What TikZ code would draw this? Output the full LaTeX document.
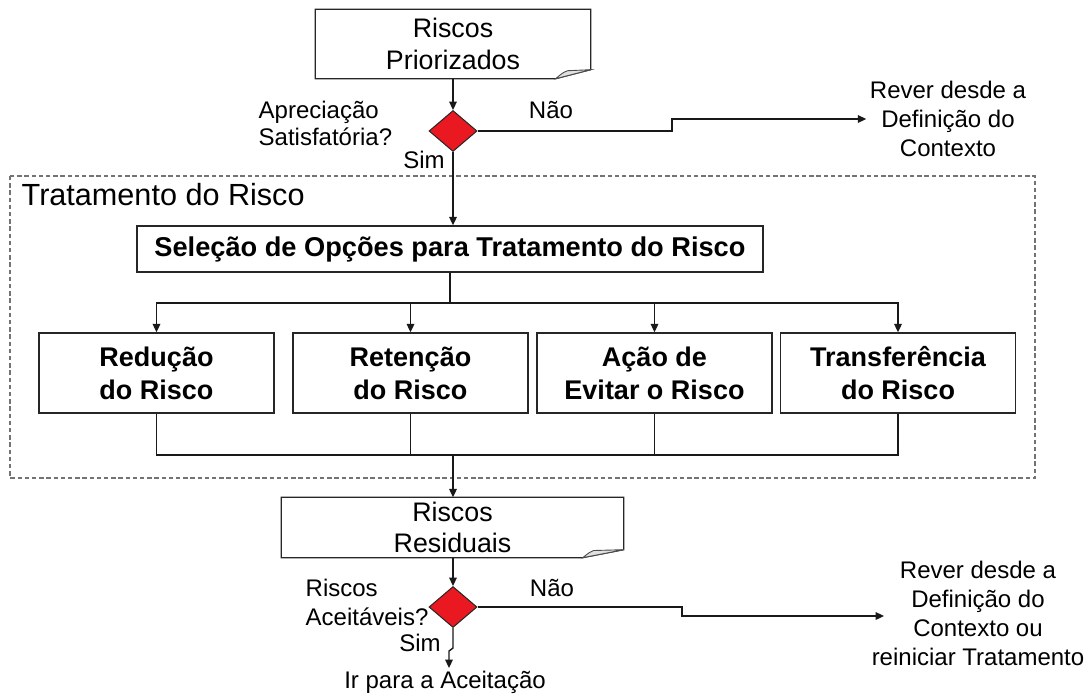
\documentclass[tikz,border=0pt]{standalone}
\usepackage{fontspec}
\setmainfont{Liberation Sans}
\usetikzlibrary{arrows.meta,shapes.geometric,calc}
\definecolor{dred}{RGB}{234,24,32}
\begin{document}
\begin{tikzpicture}[x=0.5pt,y=-0.5pt,
  line width=0.7pt,
  conn/.style={draw=black!90},
  arr/.style={conn,-{Triangle[length=4.2pt,width=3.8pt]}},
  docnode/.style={rectangle,align=center,inner sep=0pt,font=\fontsize{13.4}{16}\selectfont},
  docline/.style={draw=black!85,line width=0.6pt},
  flap/.style={draw=black!70,fill=black!12,line width=0.45pt},
  optbox/.style={draw=black!85,rectangle,minimum width=117.5pt,minimum height=40pt,align=center,
    font=\fontsize{13.5}{16.5}\selectfont\bfseries,inner sep=0pt},
  selbox/.style={draw=black!85,rectangle,minimum width=313pt,minimum height=23pt,
    font=\fontsize{13.6}{16}\selectfont\bfseries,inner sep=0pt},
  decision/.style={diamond,draw=black!85,fill=dred,minimum width=24pt,minimum height=20.5pt,inner sep=0pt,line width=0.5pt},
  lbl/.style={font=\fontsize{12}{14.5}\selectfont,inner sep=1pt},
  dashbox/.style={draw=black!55,line width=0.6pt,dash pattern=on 2.2pt off 1.4pt}
]
\useasboundingbox (0,0) rectangle (1087,697);

% Riscos Priorizados
\node[docnode,minimum width=137pt,minimum height=34pt] (rp) at (453,44) {Riscos\\Priorizados};
\draw[docline] (rp.north west) -- (rp.north east) -- ($(rp.south east)+(0,4.5pt)$)
  -- ($(rp.south east)+(-17.5pt,0)$) -- (rp.south west) -- cycle;
\draw[flap] ($(rp.south east)+(-17.5pt,0)$) .. controls ($(rp.south east)+(-14pt,3pt)$) .. ($(rp.south east)+(-11.5pt,4pt)$)
  -- ($(rp.south east)+(0,4.5pt)$) -- cycle;

% decision 1
\node[decision] (d1) at (453,131) {};
\draw[arr] (rp.south -| d1.north) -- (d1.north);
\node[lbl,align=left,anchor=west,font=\fontsize{12}{13.5}\selectfont] (q1) at (256,123.5) {Apreciação\\Satisfatória?};
\node[lbl] (nao1) at (551,110) {Não};
\node[lbl] (sim1) at (424,160) {Sim};
\node[lbl,align=center,inner sep=1.5pt] (rv1) at (948,119) {Rever desde a\\Definição do\\Contexto};
\coordinate (s1) at (672,131);
\coordinate (s1b) at (672,119);
\draw[arr] (d1.east) -- (s1) -- (s1b) -- (s1b -| rv1.west);

% treatment group
\draw[dashbox] (10,176) rectangle (1035,478);
\node[anchor=west,inner sep=0pt,font=\fontsize{15.3}{18}\selectfont] (tt) at (21,195) {Tratamento do Risco};

\node[selbox] (sel) at (450,249) {Seleção de Opções para Tratamento do Risco};
\draw[arr] (d1.south) -- (d1.south |- sel.north);

\node[optbox] (b1) at (156.5,373) {Redução\\do Risco};
\node[optbox] (b2) at (410.5,373) {Retenção\\do Risco};
\node[optbox] (b3) at (654.5,373) {Ação de\\Evitar o Risco};
\node[optbox] (b4) at (898,373) {Transferência\\do Risco};

\coordinate (bus1) at (450,303);
\draw[conn] (sel.south) -- (bus1);
\foreach \b in {b1,b2,b3,b4} \draw[arr] (bus1) -| (\b.north);

\coordinate (bus2) at (453,455);
\foreach \b in {b1,b2,b3,b4} \draw[conn] (\b.south) |- (bus2);

% Riscos Residuais
\node[docnode,minimum width=170.5pt,minimum height=29.5pt,font=\fontsize{13.4}{15.5}\selectfont] (rr) at (452.5,527.5) {Riscos\\Residuais};
\draw[docline] (rr.north west) -- (rr.north east) -- ($(rr.south east)+(0,4pt)$)
  -- ($(rr.south east)+(-20.5pt,0)$) -- (rr.south west) -- cycle;
\draw[flap] ($(rr.south east)+(-20.5pt,0)$) .. controls ($(rr.south east)+(-17pt,2.8pt)$) .. ($(rr.south east)+(-15pt,3.6pt)$)
  -- ($(rr.south east)+(0,4pt)$) -- cycle;
\draw[arr] (bus2) -- (bus2 |- rr.north);

% decision 2
\node[decision] (d2) at (453,607) {};
\draw[arr] (rr.south -| d2.north) -- (d2.north);
\node[lbl,align=left,anchor=west,font=\fontsize{12}{14.5}\selectfont] (q2) at (303,602.5) {Riscos\\Aceitáveis?};
\node[lbl] (nao2) at (552,588) {Não};
\node[lbl] (sim2) at (420,643) {Sim};
\node[lbl,align=center,inner sep=1.5pt] (rv2) at (978,613.5) {Rever desde a\\Definição do\\Contexto ou\\reiniciar Tratamento};
\coordinate (s2) at (682,607);
\coordinate (s2b) at (682,616);
\draw[arr] (d2.east) -- (s2) -- (s2b) -- ($(s2b -| rv2.west)+(8pt,0)$);

\node[lbl,anchor=north] (ira) at (445,668) {Ir para a Aceitação};
\coordinate (j1) at (453,648);
\coordinate (j2) at (449,651);
\draw[arr] (d2.south) -- (j1) -- (j2) -- (j2 |- ira.north);
\end{tikzpicture}
\end{document}
